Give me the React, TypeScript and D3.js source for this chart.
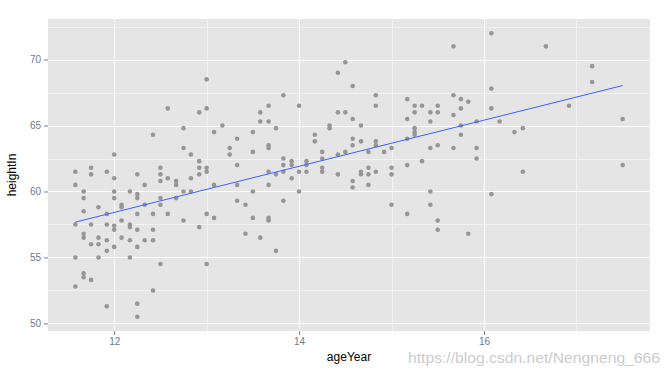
import { useEffect, useRef } from "react";
import * as d3 from "d3";

// ageYear / heightIn pairs
const ageYear = [
  11.58, 11.58, 11.58, 11.58, 11.58,
  11.67, 11.67, 11.67, 11.67, 11.67, 11.67, 11.67,
  11.75, 11.75, 11.75, 11.75, 11.75,
  11.83, 11.83, 11.83, 11.83,
  11.92, 11.92, 11.92, 11.92, 11.92, 11.92,
  12.0, 12.0, 12.0, 12.0, 12.0, 12.0, 12.0,
  12.08, 12.08, 12.08, 12.08,
  12.17, 12.17, 12.17, 12.17, 12.17,
  12.25, 12.25, 12.25, 12.25, 12.25, 12.25, 12.25, 12.25,
  12.33, 12.33, 12.33,
  12.42, 12.42, 12.42, 12.42, 12.42,
  12.5, 12.5, 12.5, 12.5, 12.5, 12.5,
  12.58, 12.58, 12.58,
  12.67, 12.67, 12.67,
  12.75, 12.75, 12.75, 12.75,
  12.83, 12.83, 12.83,
  12.92, 12.92, 12.92, 12.92, 12.92,
  13.0, 13.0, 13.0, 13.0, 13.0, 13.0,
  13.08, 13.08, 13.08,
  13.17,
  13.25, 13.25,
  13.33, 13.33, 13.33, 13.33,
  13.42, 13.42,
  13.5, 13.5, 13.5, 13.5,
  13.58, 13.58, 13.58,
  13.67, 13.67, 13.67, 13.67, 13.67, 13.67, 13.67, 13.67,
  13.75, 13.75, 13.75,
  13.83, 13.83, 13.83, 13.83, 13.83,
  13.92, 13.92, 13.92,
  14.0, 14.0, 14.0,
  14.08, 14.08, 14.08,
  14.17, 14.17,
  14.25, 14.25, 14.25, 14.25,
  14.33, 14.33,
  14.42, 14.42, 14.42, 14.42,
  14.5, 14.5, 14.5,
  14.58, 14.58, 14.58, 14.58, 14.58, 14.58,
  14.67, 14.67, 14.67, 14.67,
  14.75, 14.75, 14.75, 14.75,
  14.83, 14.83, 14.83, 14.83, 14.83,
  14.92,
  15.0, 15.0, 15.0, 15.0,
  15.17, 15.17, 15.17, 15.17, 15.17,
  15.25, 15.25, 15.25, 15.25, 15.25,
  15.33, 15.33,
  15.42, 15.42, 15.42, 15.42, 15.42,
  15.5, 15.5, 15.5, 15.5, 15.5,
  15.67, 15.67, 15.67, 15.67,
  15.75, 15.75, 15.75, 15.75,
  15.83, 15.83,
  15.92, 15.92, 15.92,
  16.08, 16.08, 16.08, 16.08,
  16.17,
  16.33,
  16.42, 16.42,
  16.67,
  16.92,
  17.17, 17.17,
  17.5, 17.5,
];

const heightIn = [
  61.5, 60.5, 57.5, 55.0, 52.8,
  60.0, 59.5, 58.5, 56.8, 56.5, 53.8, 53.5,
  61.8, 61.3, 57.5, 56.0, 53.3,
  58.8, 56.5, 56.0, 55.0,
  61.5, 58.3, 57.5, 56.3, 55.5, 51.3,
  62.8, 61.0, 60.0, 59.5, 57.4, 57.1, 55.8,
  59.0, 58.8, 57.8, 56.5,
  60.0, 57.5, 57.3, 56.3, 55.0,
  61.3, 59.8, 59.5, 58.3, 57.1, 55.8, 51.5, 50.5,
  60.5, 59.0, 56.3,
  64.3, 58.3, 57.1, 56.3, 52.5,
  61.8, 61.3, 60.8, 59.5, 59.0, 54.5,
  66.3, 61.0, 58.3,
  60.8, 60.5, 59.5,
  64.8, 63.3, 60.0, 57.8,
  62.8, 61.0, 60.0,
  66.0, 62.3, 61.8, 61.3, 57.3,
  68.5, 66.3, 61.8, 61.5, 58.3, 54.5,
  64.5, 60.5, 58.0,
  65.0,
  63.3, 62.8,
  64.0, 62.0, 60.5, 59.3,
  59.0, 56.8,
  64.5, 63.0, 60.0, 58.0,
  66.0, 65.3, 56.5,
  66.5, 65.3, 63.5, 63.3, 61.5, 60.5, 58.0, 57.8,
  64.8, 61.3, 55.5,
  67.3, 62.5, 62.0, 61.5, 59.3,
  62.3, 62.0, 61.0,
  66.5, 61.5, 60.0,
  62.3, 62.0, 61.5,
  64.3, 63.8,
  63.0, 62.5, 61.8, 61.5,
  65.0, 64.8,
  69.0, 66.0, 62.8, 61.3,
  69.8, 66.0, 63.0,
  68.0, 65.5, 64.0, 63.5, 60.8, 60.3,
  65.0, 63.8, 61.5, 61.3,
  63.0, 61.8, 61.3, 60.5,
  67.3, 66.5, 63.8, 63.5, 61.5,
  63.0,
  63.3, 61.8, 61.3, 59.0,
  67.0, 65.5, 64.0, 62.0, 58.3,
  66.5, 66.0, 64.8, 64.5, 64.3,
  66.5, 62.3,
  66.0, 65.3, 63.3, 60.0, 59.0,
  66.5, 66.0, 63.5, 57.8, 57.1,
  71.0, 67.3, 65.8, 63.3,
  67.0, 66.3, 65.0, 64.3,
  66.8, 56.8,
  65.3, 63.3, 62.5,
  72.0, 67.8, 66.3, 59.8,
  65.3,
  64.5,
  64.8, 61.5,
  71.0,
  66.5,
  69.5, 68.3,
  65.5, 62.0,
];

// lm fit endpoints
const fitAge = [11.58, 17.5];
const fitHeight = [57.68, 68.03];

const xTicks = [12, 14, 16];
const xMinor = [13, 15, 17];
const yTicks = [50, 55, 60, 65, 70];
const yMinor = [52.5, 57.5, 62.5, 67.5, 72.5];

const W = 670;
const H = 375;
const margin = { top: 19, right: 20, bottom: 44, left: 48 };

function expand([lo, hi]: [number, number]): [number, number] {
  const pad = (hi - lo) * 0.05;
  return [lo - pad, hi + pad];
}

export default function App() {
  const svgRef = useRef<SVGSVGElement>(null);

  useEffect(() => {
    const svg = d3.select(svgRef.current);
    svg.selectAll("*").remove();

    const left = margin.left;
    const right = W - margin.right;
    const top = margin.top;
    const bottom = H - margin.bottom;

    const x = d3
      .scaleLinear()
      .domain(expand(d3.extent(ageYear) as [number, number]))
      .range([left, right]);
    const y = d3
      .scaleLinear()
      .domain(expand(d3.extent(heightIn) as [number, number]))
      .range([bottom, top]);

    const font = "'Liberation Sans', Arial, sans-serif";

    // panel
    svg
      .append("rect")
      .attr("x", left)
      .attr("y", top)
      .attr("width", right - left)
      .attr("height", bottom - top)
      .attr("fill", "#E5E5E5");

    const grid = svg.append("g").attr("shape-rendering", "crispEdges");
    grid
      .selectAll(".ymin")
      .data(yMinor)
      .join("line")
      .attr("x1", left)
      .attr("x2", right)
      .attr("y1", (d) => Math.round(y(d)) + 0.5)
      .attr("y2", (d) => Math.round(y(d)) + 0.5)
      .attr("stroke", "#F2F2F2")
      .attr("stroke-width", 1);
    grid
      .selectAll(".xmin")
      .data(xMinor)
      .join("line")
      .attr("y1", top)
      .attr("y2", bottom)
      .attr("x1", (d) => Math.round(x(d)) + 0.5)
      .attr("x2", (d) => Math.round(x(d)) + 0.5)
      .attr("stroke", "#F2F2F2")
      .attr("stroke-width", 1);
    grid
      .append("g")
      .selectAll("line")
      .data(yTicks)
      .join("line")
      .attr("x1", left)
      .attr("x2", right)
      .attr("y1", (d) => Math.round(y(d)) + 0.5)
      .attr("y2", (d) => Math.round(y(d)) + 0.5)
      .attr("stroke", "#FFFFFF")
      .attr("stroke-width", 1);
    grid
      .append("g")
      .selectAll("line")
      .data(xTicks)
      .join("line")
      .attr("y1", top)
      .attr("y2", bottom)
      .attr("x1", (d) => Math.round(x(d)) + 0.5)
      .attr("x2", (d) => Math.round(x(d)) + 0.5)
      .attr("stroke", "#FFFFFF")
      .attr("stroke-width", 1);

    // points
    svg
      .append("g")
      .selectAll("circle")
      .data(ageYear.map((a, i) => [a, heightIn[i]]))
      .join("circle")
      .attr("cx", (d) => x(d[0]))
      .attr("cy", (d) => y(d[1]))
      .attr("r", 2.3)
      .attr("fill", "#969696");

    // fitted line
    const line = d3
      .line<number>()
      .x((d) => x(d))
      .y((_, i) => y(fitHeight[i]));
    svg
      .append("path")
      .attr("d", line(fitAge))
      .attr("fill", "none")
      .attr("stroke", "#3366FF")
      .attr("stroke-width", 1);

    // axes
    const xAxis = svg
      .append("g")
      .attr("transform", `translate(0,${bottom})`)
      .call(
        d3
          .axisBottom(x)
          .tickValues(xTicks)
          .tickFormat(d3.format("d"))
          .tickSize(4)
          .tickPadding(3)
      );
    const yAxis = svg
      .append("g")
      .attr("transform", `translate(${left},0)`)
      .call(
        d3
          .axisLeft(y)
          .tickValues(yTicks)
          .tickFormat(d3.format("d"))
          .tickSize(4)
          .tickPadding(3)
      );
    [xAxis, yAxis].forEach((g) => {
      g.select(".domain").remove();
      g.selectAll(".tick line").attr("stroke", "#7F7F7F");
      g.selectAll(".tick text")
        .attr("fill", "#6E7A90")
        .style("font-family", font)
        .style("font-size", "10px");
    });

    // titles
    svg
      .append("text")
      .attr("x", (left + right) / 2)
      .attr("y", 361)
      .attr("text-anchor", "middle")
      .style("font-family", font)
      .style("font-size", "12px")
      .attr("fill", "#000")
      .text("ageYear");
    svg
      .append("text")
      .attr("transform", `translate(16,${(top + bottom) / 2}) rotate(-90)`)
      .attr("text-anchor", "middle")
      .style("font-family", font)
      .style("font-size", "12px")
      .attr("fill", "#000")
      .text("heightIn");

    // watermark
    svg
      .append("text")
      .attr("x", 408)
      .attr("y", 363)
      .attr("textLength", 252)
      .attr("lengthAdjust", "spacingAndGlyphs")
      .style("font-family", font)
      .style("font-size", "15px")
      .attr("fill", "#CCCCCC")
      .text("https://blog.csdn.net/Nengneng_666");
  }, []);

  return (
    <svg
      ref={svgRef}
      width={W}
      height={H}
      style={{ position: "absolute", left: 0, top: 0, background: "#fff" }}
    />
  );
}
